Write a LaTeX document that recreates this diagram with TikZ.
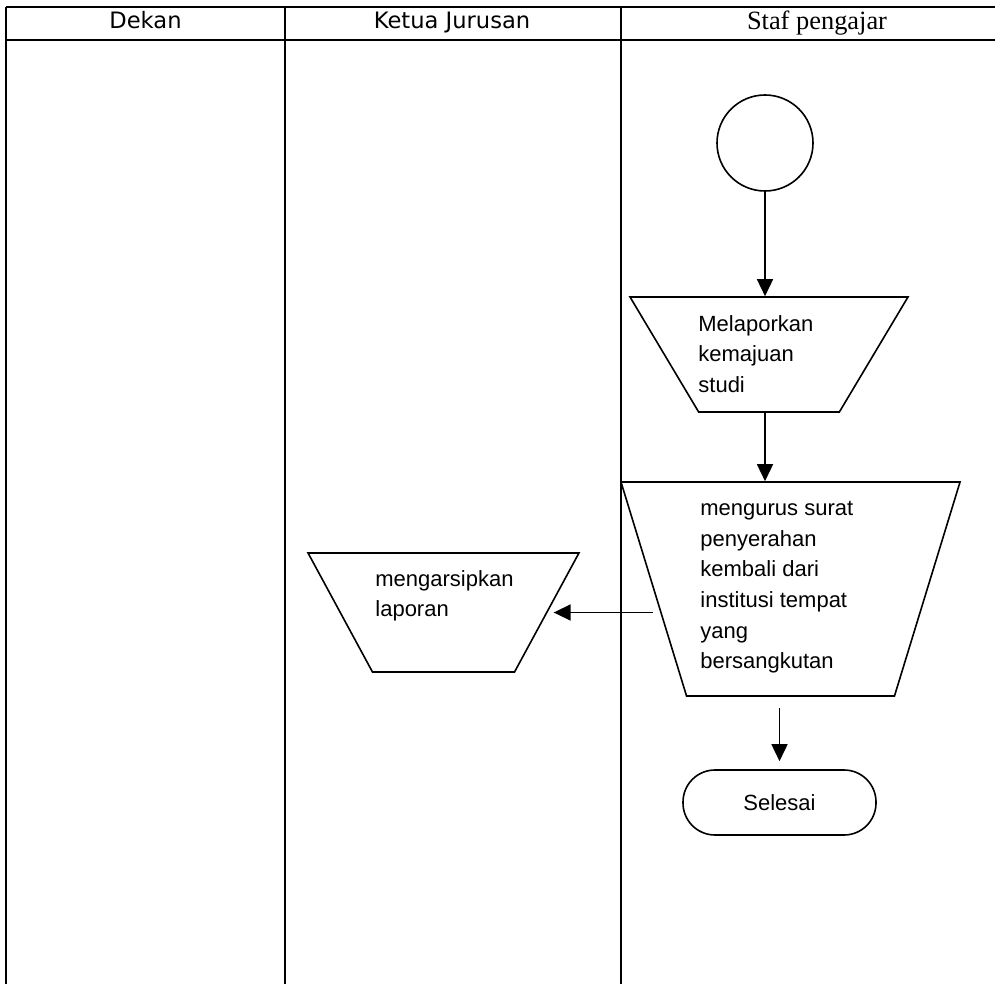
\documentclass[tikz,border=0pt]{standalone}
\usepackage{fontspec}
\setmainfont{Liberation Sans}
\newfontfamily\headfont{DejaVu Sans}
\newfontfamily\serifhead{Liberation Serif}
\usetikzlibrary{shapes.geometric,arrows.meta}

\begin{document}
\begin{tikzpicture}[x=0.5pt, y=-0.5pt,
  lane/.style={line width=1.1pt},
  proc/.style={draw, line width=0.8pt, trapezium, shape border rotate=180,
    trapezium stretches=true, inner sep=2pt},
  txt/.style={anchor=north west, inner sep=0pt, align=left,
    font=\fontsize{11}{15.3}\selectfont},
  arr/.style={-{Triangle[length=8.5pt,width=8pt]}, line width=0.8pt}]
  \useasboundingbox (0,0) rectangle (995,984);

  % swimlanes
  \draw[lane] (6,7) -- (995,7);
  \draw[lane] (6,40) -- (995,40);
  \foreach \x in {6,285,621} \draw[lane] (\x,7) -- (\x,984);
  \node[anchor=base, font=\headfont\fontsize{11.3}{13}\selectfont] (dekan) at (145.5,29) {Dekan};
  \node[anchor=base, font=\headfont\fontsize{11.3}{13}\selectfont] (kajur) at (452,29) {Ketua Jurusan};
  \node[anchor=base, font=\serifhead\fontsize{13.2}{15}\selectfont] (staf) at (817,30) {Staf pengajar};

  % flow
  \node[draw, circle, minimum size=48pt, inner sep=0pt, line width=0.8pt] (start) at (765,143) {};
  \node[proc, trapezium angle=64, minimum width=139pt, minimum height=57.5pt] (lapor) at (769,354.5) {};
  \node[txt] (laporT) at (698,315) {Melaporkan\\kemajuan\\studi};
  \node[proc, trapezium angle=72.5, minimum width=169.5pt, minimum height=107pt] (urus) at (790.5,589) {};
  \node[txt] (urusT) at (700,501) {mengurus surat\\penyerahan\\kembali dari\\institusi tempat\\yang\\bersangkutan};
  \node[proc, trapezium angle=65.6, minimum width=135.5pt, minimum height=59.5pt] (arsip) at (443.5,612.5) {};
  \node[txt] (arsipT) at (375,570) {mengarsipkan\\laporan};
  \node[draw, rounded corners=16pt, minimum width=96.5pt, minimum height=32.5pt, line width=0.8pt,
    font=\fontsize{11}{13}\selectfont] (selesai) at (779.5,802.5) {Selesai};

  \draw[arr] (start) -- (start |- lapor.north);
  \draw[arr] (start |- lapor.south) -- (start |- urus.north);
  \draw[arr] (urus.west |- arsip.east) -- ([xshift=3pt]arsip.east);
  \draw[arr] (selesai.north |- urus.south) ++(0,11) -- ([yshift=4pt]selesai.north);
\end{tikzpicture}
\end{document}
